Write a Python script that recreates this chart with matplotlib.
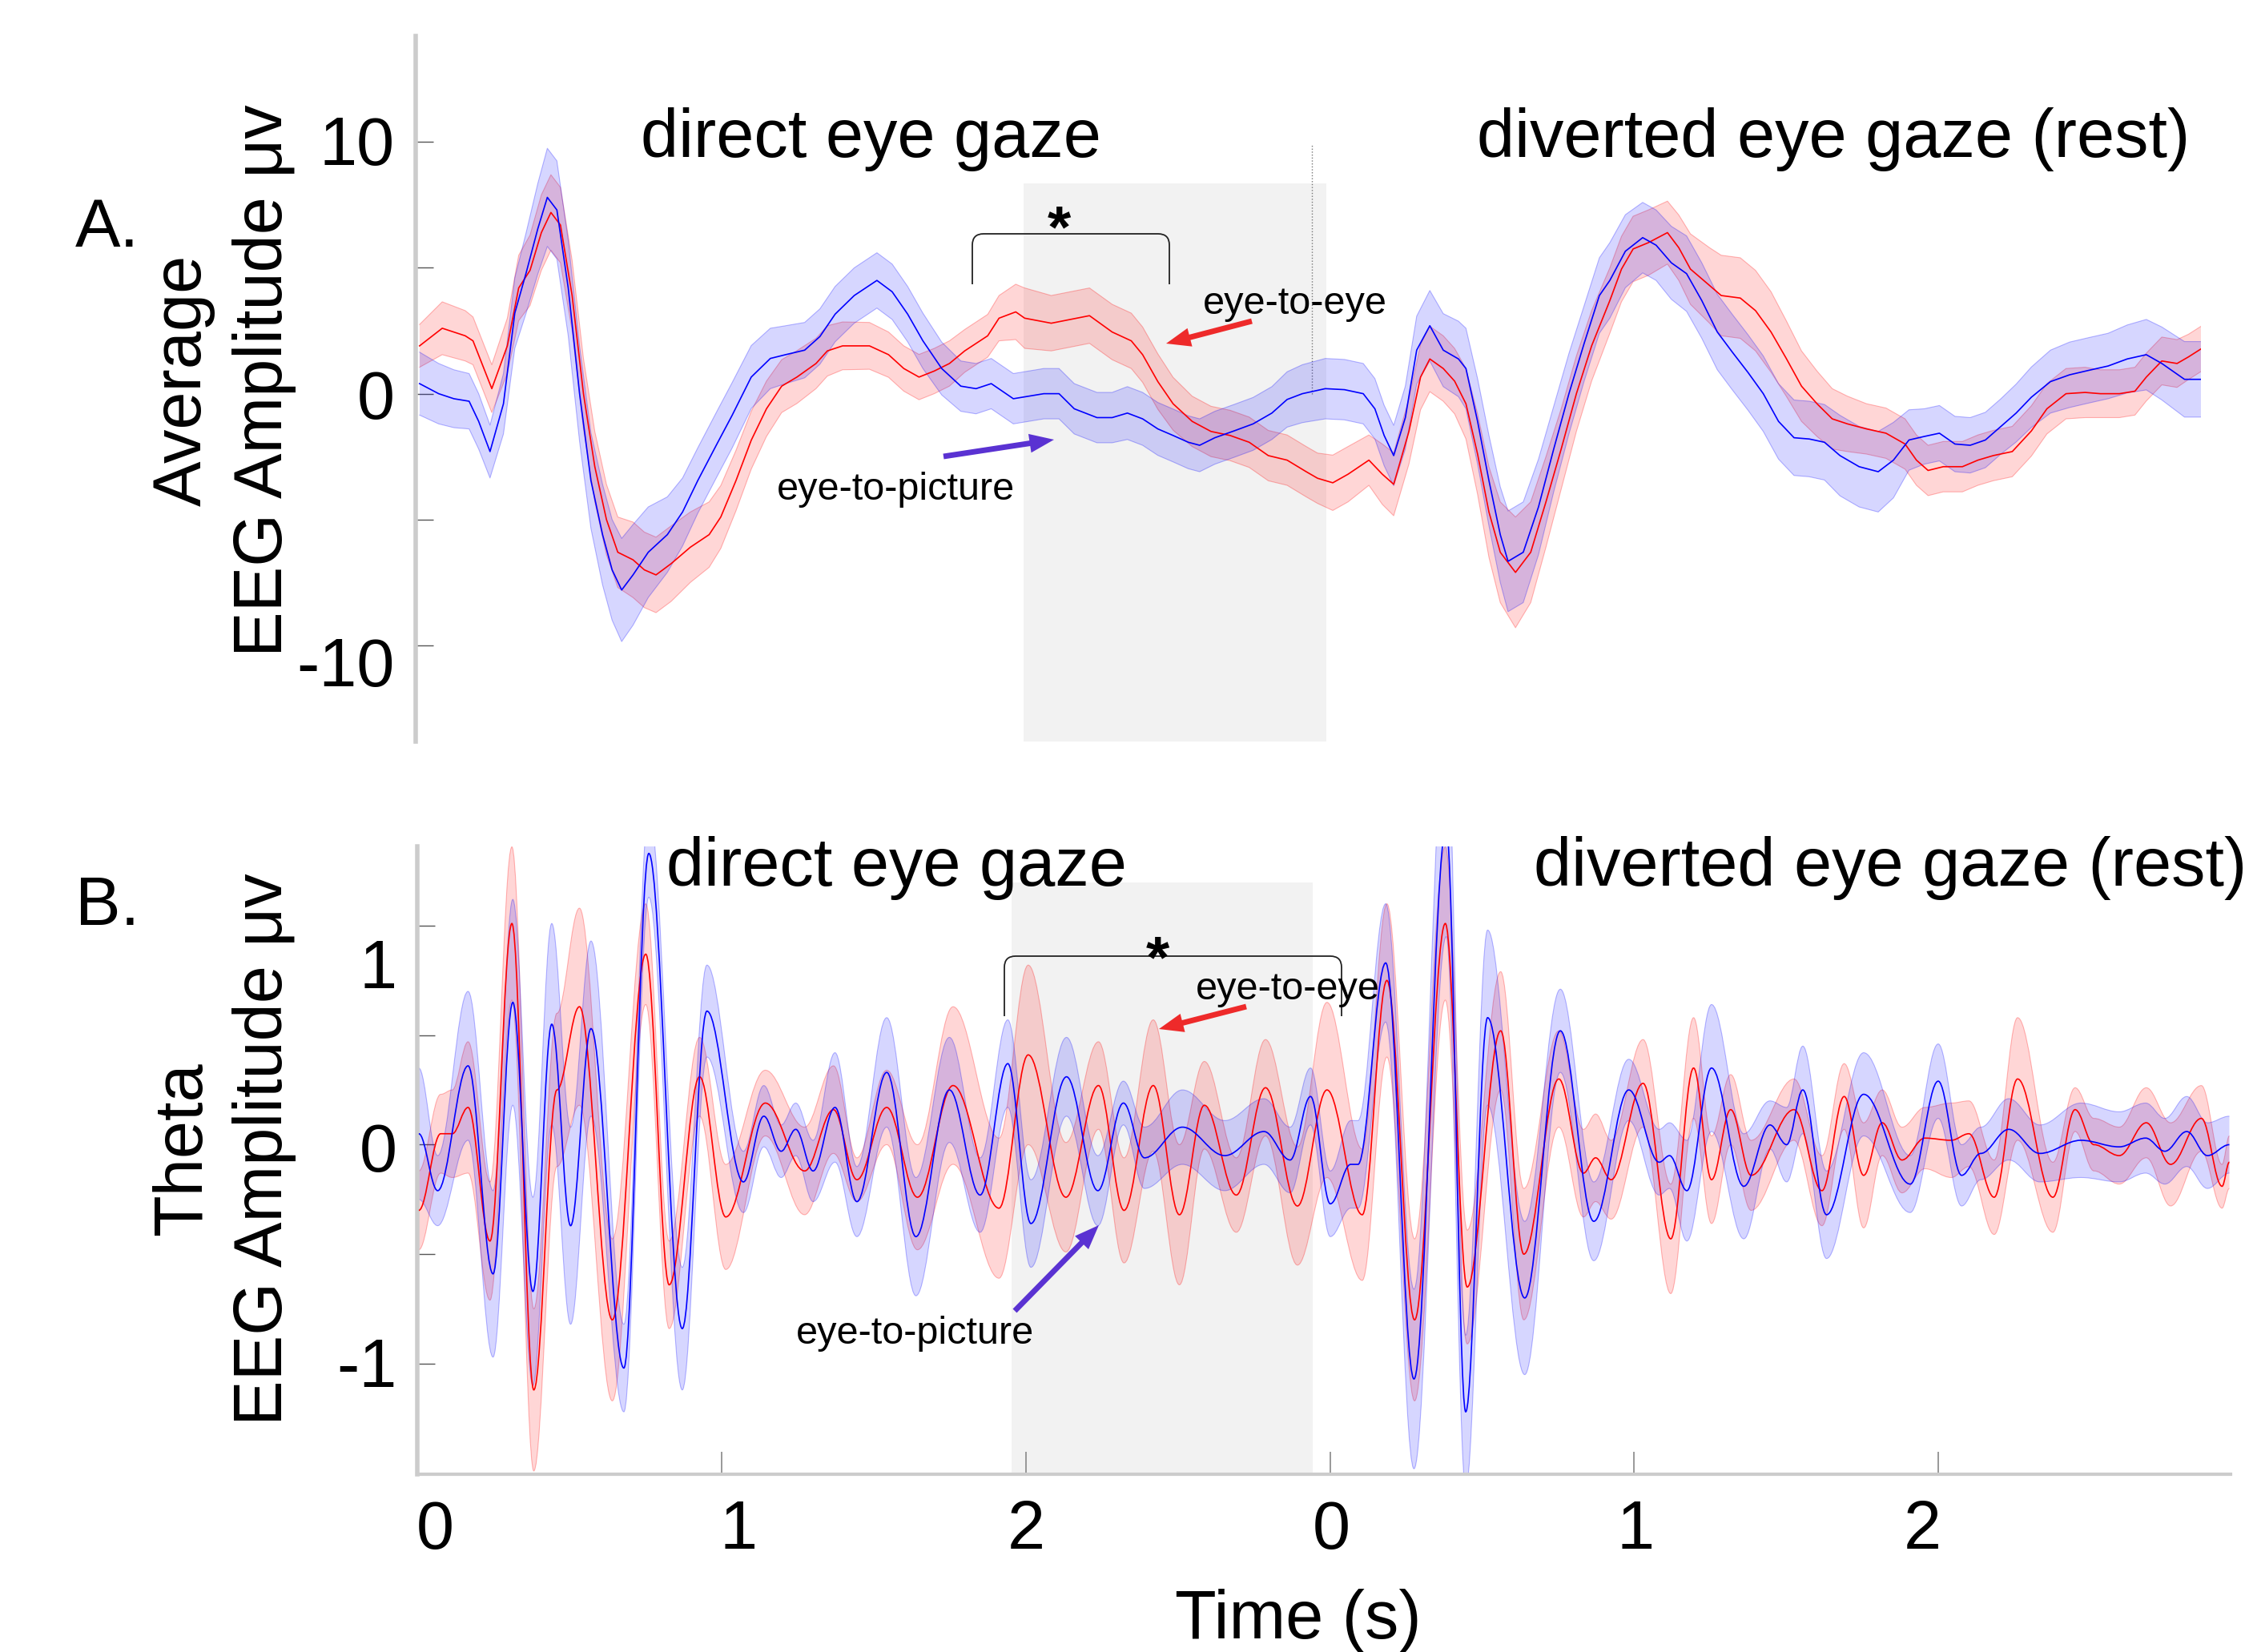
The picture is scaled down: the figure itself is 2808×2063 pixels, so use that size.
import numpy as np
import matplotlib
matplotlib.use('Agg')
import matplotlib.pyplot as plt
from matplotlib.patches import FancyArrowPatch, PathPatch
from matplotlib.path import Path

plt.rcParams['font.family'] = ['Liberation Sans', 'DejaVu Sans']

W, H = 2808, 2063
DPI = 100

# ---------------- panel A : average EEG ----------------
a_red_t = [0.013, 0.089, 0.166, 0.192, 0.255, 0.307, 0.345, 0.383, 0.421, 0.453, 0.485, 0.524,
           0.562, 0.600, 0.639, 0.677, 0.728, 0.766, 0.805, 0.856, 0.920, 0.983, 1.022, 1.073,
           1.124, 1.175, 1.226, 1.277, 1.341, 1.379, 1.430, 1.520, 1.584, 1.635, 1.686, 1.737,
           1.788, 1.839, 1.916, 1.954, 2.010, 2.040, 2.129, 2.193, 2.257, 2.333, 2.397, 2.435,
           2.486, 2.537, 2.601, 2.664, 2.728, 2.792, 2.856, 2.919, 2.983, 3.021, 3.072, 3.123,
           3.193, 3.238, 3.276, 3.327, 3.366, 3.397, 3.442, 3.480, 3.518, 3.557, 3.595, 3.633,
           3.684, 3.735, 3.786, 3.837, 3.888, 3.939, 4.000, 4.039, 4.078, 4.129, 4.193, 4.231,
           4.270, 4.334, 4.373, 4.437, 4.488, 4.540, 4.591, 4.642, 4.694, 4.745, 4.796, 4.860,
           4.925, 4.989, 5.027, 5.066, 5.117, 5.181, 5.233, 5.284, 5.348, 5.412, 5.464, 5.528,
           5.592, 5.643, 5.707, 5.759, 5.797, 5.849, 5.900, 5.938, 5.983]
a_red = [1.9, 2.6, 2.3, 2.1, 0.2, 1.9, 4.2, 4.9, 6.4, 7.2, 6.7, 3.9,
         0.0, -2.9, -5.0, -6.3, -6.6, -7.0, -7.2, -6.75, -6.1, -5.6, -4.9, -3.45,
         -1.85, -0.6, 0.3, 0.66, 1.2, 1.7, 1.9, 1.9, 1.55, 1.0, 0.66, 0.9,
         1.2, 1.7, 2.3, 3.0, 3.25, 3.0, 2.8, 2.95, 3.1, 2.45, 2.1, 1.55,
         0.48, -0.4, -1.1, -1.5, -1.66, -1.93, -2.46, -2.64, -3.1, -3.36, -3.54, -3.2,
         -2.64, -3.2, -3.6, -1.5, 0.66, 1.38, 1.0, 0.5, -0.4, -2.4, -4.7, -6.3,
         -7.1, -6.3, -4.3, -2.2, 0.0, 1.9, 3.7, 4.95, 5.75, 6.0, 6.4, 5.8,
         4.95, 4.3, 3.9, 3.8, 3.3, 2.45, 1.4, 0.3, -0.4, -1.0, -1.2, -1.4,
         -1.57, -2.0, -2.64, -3.05, -2.9, -2.9, -2.64, -2.46, -2.3, -1.48, -0.6, 0.0,
         0.05, 0.0, 0.0, 0.1, 0.66, 1.3, 1.2, 1.46, 1.8]
a_red_err = [0.85, 1.05, 1.0, 0.95, 0.95, 1.1, 1.3, 1.4, 1.5, 1.5, 1.5, 1.4,
             1.4, 1.4, 1.4, 1.4, 1.5, 1.5, 1.5, 1.5, 1.4, 1.3, 1.25, 1.2,
             1.15, 1.1, 1.05, 1.05, 1.0, 1.0, 0.95, 0.93, 0.9, 0.9, 0.9, 0.9,
             0.9, 0.85, 0.85, 0.9, 1.1, 1.2, 1.1, 1.1, 1.1, 1.1, 1.1, 1.1,
             1.1, 1.05, 1.0, 1.0, 1.0, 1.0, 1.0, 1.0, 1.0, 1.0, 1.1, 1.1,
             1.0, 1.2, 1.25, 1.3, 1.3, 1.3, 1.3, 1.3, 1.4, 1.6, 1.8, 2.0,
             2.2, 2.0, 1.8, 1.6, 1.5, 1.4, 1.3, 1.3, 1.3, 1.3, 1.25, 1.3,
             1.4, 1.5, 1.6, 1.6, 1.6, 1.6, 1.5, 1.4, 1.3, 1.2, 1.1, 1.0,
             1.0, 1.0, 1.0, 1.0, 1.0, 1.0, 1.0, 1.0, 1.0, 1.0, 1.0, 1.0,
             1.0, 0.95, 0.95, 0.95, 0.95, 0.95, 0.95, 0.9, 0.9]

a_blue_t = [0.013, 0.077, 0.128, 0.179, 0.211, 0.249, 0.294, 0.332, 0.370, 0.409, 0.441, 0.473,
            0.511, 0.549, 0.587, 0.626, 0.658, 0.690, 0.728, 0.779, 0.843, 0.894, 0.945, 1.009,
            1.060, 1.124, 1.188, 1.239, 1.303, 1.354, 1.405, 1.469, 1.545, 1.596, 1.648, 1.699,
            1.762, 1.826, 1.877, 1.928, 2.002, 2.104, 2.155, 2.206, 2.282, 2.333, 2.384, 2.435,
            2.486, 2.537, 2.588, 2.626, 2.677, 2.741, 2.805, 2.868, 2.919, 2.970, 3.047, 3.111,
            3.174, 3.213, 3.244, 3.276, 3.315, 3.353, 3.397, 3.442, 3.493, 3.518, 3.557, 3.595,
            3.633, 3.659, 3.710, 3.761, 3.812, 3.863, 3.914, 3.965, 4.000, 4.052, 4.110, 4.155,
            4.206, 4.257, 4.308, 4.360, 4.411, 4.463, 4.514, 4.565, 4.617, 4.668, 4.719, 4.771,
            4.835, 4.899, 4.950, 5.002, 5.053, 5.104, 5.156, 5.207, 5.258, 5.310, 5.361, 5.412,
            5.476, 5.540, 5.605, 5.669, 5.733, 5.797, 5.849, 5.925, 5.983]
a_blue = [0.4, 0.0, -0.2, -0.3, -1.1, -2.3, -0.4, 3.2, 4.8, 6.55, 7.8, 7.3,
          4.2, 0.0, -3.45, -5.6, -7.0, -7.8, -7.2, -6.3, -5.6, -4.7, -3.45, -2.0,
          -0.86, 0.66, 1.4, 1.55, 1.73, 2.27, 3.16, 3.9, 4.5, 4.05, 3.16, 2.1,
          1.0, 0.3, 0.2, 0.4, -0.2, 0.0, 0.0, -0.6, -0.95, -0.95, -0.77, -1.0,
          -1.4, -1.66, -1.93, -2.05, -1.75, -1.48, -1.2, -0.77, -0.23, 0.0, 0.2, 0.16,
          0.0, -0.6, -1.66, -2.46, -0.95, 1.73, 2.7, 1.73, 1.38, 1.0, -1.1, -3.45,
          -5.6, -6.66, -6.3, -4.5, -2.2, 0.0, 2.0, 3.9, 4.5, 5.66, 6.2, 5.9,
          5.2, 4.77, 3.7, 2.45, 1.64, 0.84, 0.0, -1.1, -1.75, -1.8, -1.93, -2.46,
          -2.9, -3.1, -2.64, -1.84, -1.7, -1.57, -2.0, -2.05, -1.84, -1.3, -0.77, -0.14,
          0.48, 0.75, 0.93, 1.1, 1.38, 1.55, 1.2, 0.57, 0.57]
a_blue_err = [1.25, 1.2, 1.15, 1.1, 1.1, 1.05, 1.2, 1.4, 1.6, 1.8, 1.95, 1.95,
              1.9, 1.9, 1.9, 2.0, 2.0, 2.05, 2.0, 1.8, 1.5, 1.35, 1.3, 1.3,
              1.3, 1.25, 1.2, 1.15, 1.1, 1.1, 1.1, 1.1, 1.1, 1.1, 1.1, 1.1,
              1.05, 1.0, 1.0, 1.0, 1.0, 1.0, 1.0, 1.0, 1.0, 1.0, 1.05, 1.05,
              1.05, 1.05, 1.05, 1.05, 1.05, 1.05, 1.05, 1.05, 1.1, 1.15, 1.2, 1.2,
              1.2, 1.2, 1.2, 1.2, 1.25, 1.35, 1.4, 1.45, 1.5, 1.6, 1.7, 1.8,
              1.9, 2.0, 2.0, 1.9, 1.7, 1.6, 1.5, 1.5, 1.5, 1.45, 1.4, 1.4,
              1.45, 1.5, 1.5, 1.5, 1.5, 1.5, 1.5, 1.5, 1.5, 1.5, 1.5, 1.6,
              1.6, 1.6, 1.5, 1.2, 1.1, 1.1, 1.1, 1.1, 1.1, 1.1, 1.15, 1.2,
              1.25, 1.3, 1.3, 1.3, 1.35, 1.4, 1.45, 1.5, 1.5]

# ---------------- panel B : theta band (extrema) ----------------
b_red_t = [0.005, 0.077, 0.115, 0.167, 0.239, 0.311, 0.383, 0.459, 0.533, 0.641, 0.751, 0.828,
           0.928, 1.014, 1.144, 1.273, 1.368, 1.445, 1.543, 1.644, 1.761, 1.912, 2.008, 2.132,
           2.239, 2.323, 2.419, 2.505, 2.587, 2.692, 2.788, 2.893, 2.990, 3.106, 3.187, 3.278,
           3.379, 3.451, 3.561, 3.637, 3.752, 3.833, 3.873, 3.924, 4.029, 4.120, 4.195, 4.254,
           4.317, 4.384, 4.525, 4.617, 4.690, 4.754, 4.815, 4.880, 4.955, 5.042, 5.100, 5.183,
           5.260, 5.376, 5.449, 5.511, 5.594, 5.683, 5.763, 5.864, 5.932, 5.956]
b_red = [-0.3, 0.05, 0.05, 0.17, -0.44, 1.01, -1.12, 0.25, 0.63, -0.8, 0.87, -0.64,
         0.31, -0.33, 0.19, -0.12, 0.16, -0.16, 0.17, -0.24, 0.27, -0.29, 0.41, -0.24,
         0.27, -0.3, 0.27, -0.32, 0.18, -0.23, 0.26, -0.28, 0.25, -0.32, 0.75, -0.8,
         1.01, -0.65, 0.52, -0.5, 0.3, -0.13, -0.06, -0.16, 0.28, -0.43, 0.35, -0.16,
         0.16, -0.14, 0.16, -0.21, 0.22, -0.14, 0.1, -0.07, 0.03, 0.02, 0.05, -0.24,
         0.3, -0.24, 0.16, 0.0, -0.05, 0.1, -0.09, 0.12, -0.19, -0.08]
b_red_err = [0.18, 0.18, 0.2, 0.3, 0.27, 0.35, 0.37, 0.35, 0.45, 0.37, 0.23, 0.2,
             0.18, 0.24, 0.15, 0.2, 0.2, 0.1, 0.17, 0.24, 0.36, 0.32, 0.41, 0.25,
             0.2, 0.24, 0.3, 0.32, 0.2, 0.17, 0.22, 0.27, 0.4, 0.3, 0.35, 0.37,
             0.35, 0.26, 0.27, 0.3, 0.22, 0.2, 0.2, 0.18, 0.2, 0.25, 0.23, 0.2,
             0.16, 0.16, 0.14, 0.16, 0.15, 0.24, 0.15, 0.15, 0.14, 0.17, 0.15, 0.17,
             0.28, 0.16, 0.1, 0.12, 0.13, 0.16, 0.19, 0.15, 0.1, 0.12]

b_blue_t = [0.005, 0.067, 0.167, 0.249, 0.314, 0.380, 0.442, 0.504, 0.571, 0.679, 0.761, 0.871,
            0.952, 1.072, 1.139, 1.196, 1.244, 1.301, 1.373, 1.445, 1.543, 1.639, 1.749, 1.850,
            1.941, 2.017, 2.134, 2.237, 2.321, 2.390, 2.515, 2.654, 2.783, 2.869, 2.936, 3.001,
            3.068, 3.092, 3.183, 3.276, 3.382, 3.446, 3.518, 3.640, 3.757, 3.867, 3.982, 4.082,
            4.116, 4.173, 4.254, 4.360, 4.446, 4.501, 4.554, 4.632, 4.754, 4.907, 4.999, 5.076,
            5.139, 5.231, 5.333, 5.468, 5.594, 5.681, 5.744, 5.816, 5.884, 5.956]
b_blue = [0.05, -0.21, 0.36, -0.59, 0.65, -0.67, 0.55, -0.37, 0.53, -1.02, 1.33, -0.84,
          0.61, -0.17, 0.13, -0.03, 0.07, -0.12, 0.17, -0.26, 0.33, -0.42, 0.25, -0.23,
          0.37, -0.36, 0.31, -0.21, 0.19, -0.06, 0.08, -0.05, 0.06, -0.07, 0.22, -0.27,
          -0.09, -0.09, 0.83, -1.07, 1.45, -1.22, 0.58, -0.7, 0.52, -0.35, 0.25, -0.08,
          -0.05, -0.21, 0.35, -0.19, 0.09, 0.0, 0.25, -0.32, 0.23, -0.18, 0.29, -0.14,
          -0.04, 0.07, -0.04, 0.02, -0.01, 0.03, -0.03, 0.06, -0.05, 0.0]
b_blue_err = [0.3, 0.16, 0.34, 0.38, 0.47, 0.43, 0.46, 0.45, 0.4, 0.2, 0.2, 0.28,
              0.21, 0.14, 0.14, 0.12, 0.12, 0.14, 0.25, 0.16, 0.25, 0.27, 0.24, 0.17,
              0.2, 0.2, 0.18, 0.16, 0.1, 0.14, 0.17, 0.16, 0.15, 0.15, 0.13, 0.15,
              0.2, 0.2, 0.27, 0.41, 0.5, 0.35, 0.4, 0.35, 0.19, 0.18, 0.14, 0.15,
              0.15, 0.23, 0.29, 0.24, 0.11, 0.17, 0.2, 0.2, 0.19, 0.13, 0.17, 0.14,
              0.12, 0.14, 0.13, 0.17, 0.16, 0.16, 0.15, 0.16, 0.15, 0.13]

x_tick_labels = ['0', '1', '2', '0', '1', '2']

RED = '#ff0000'
BLUE = '#0000ff'


def px_rect(x0, y0, x1, y1):
    return [x0 / W, 1 - y1 / H, (x1 - x0) / W, (y1 - y0) / H]


def draw_band(ax, t, m, e, color):
    t, m, e = np.asarray(t), np.asarray(m), np.asarray(e)
    ax.fill_between(t, m - e, m + e, facecolor=color, alpha=0.16, edgecolor='none', zorder=2)
    ax.plot(t, m + e, color=color, alpha=0.28, lw=0.8, zorder=2)
    ax.plot(t, m - e, color=color, alpha=0.28, lw=0.8, zorder=2)


def bezier_segments(t, v, k=0.36):
    # cubic segments through the read extrema, flat tangent at each of them
    verts, codes = [], []
    for i in range(len(t) - 1):
        dt = t[i + 1] - t[i]
        verts += [(t[i] + k * dt, v[i]), (t[i + 1] - k * dt, v[i + 1]), (t[i + 1], v[i + 1])]
        codes += [Path.CURVE4] * 3
    return verts, codes


def draw_smooth(ax, t, m, e, color):
    t, m, e = np.asarray(t), np.asarray(m), np.asarray(e)
    up, lo = m + e, m - e
    v_up, c_up = bezier_segments(t, up)
    v_lo, c_lo = bezier_segments(t[::-1], lo[::-1])
    verts = [(t[0], up[0])] + v_up + [(t[-1], lo[-1])] + v_lo + [(t[0], up[0])]
    codes = [Path.MOVETO] + c_up + [Path.LINETO] + c_lo + [Path.CLOSEPOLY]
    ax.add_patch(PathPatch(Path(verts, codes), facecolor=color, alpha=0.16, lw=0, zorder=2))
    for edge in (up, lo):
        vv, cc = bezier_segments(t, edge)
        ax.add_patch(PathPatch(Path([(t[0], edge[0])] + vv, [Path.MOVETO] + cc), fill=False,
                               edgecolor=color, alpha=0.28, lw=0.8, zorder=2))
    vv, cc = bezier_segments(t, m)
    return Path([(t[0], m[0])] + vv, [Path.MOVETO] + cc)


def style_axes(ax, yticks):
    for s in ['top', 'right']:
        ax.spines[s].set_visible(False)
    ax.spines['left'].set_color('#cccccc')
    ax.spines['left'].set_linewidth(4)
    ax.set_yticks(yticks)
    ax.tick_params(axis='y', direction='in', length=16, width=1, color='#555555',
                   labelleft=False)
    ax.patch.set_alpha(0)


fig = plt.figure(figsize=(W / DPI, H / DPI), dpi=DPI)

# panel A
ax_a = fig.add_axes(px_rect(519, 45, 2748, 926))
style_axes(ax_a, [-10, -5, 0, 5, 10])
ax_a.spines['bottom'].set_visible(False)
ax_a.set_xticks([])
ax_a.set_xlim(0, 5.98)
ax_a.set_ylim(-13.82, 14.21)
ax_a.fill_between([2.037, 3.051], -13.82, 8.35, color='#f2f2f2', lw=0, zorder=0)
ax_a.plot([3.003, 3.003], [0, 9.9], color='#777777', lw=1, ls=':', zorder=1)
draw_band(ax_a, a_red_t, a_red, a_red_err, RED)
draw_band(ax_a, a_blue_t, a_blue, a_blue_err, BLUE)
ax_a.plot(a_red_t, a_red, color=RED, lw=1.2, zorder=3)
ax_a.plot(a_blue_t, a_blue, color=BLUE, lw=1.2, zorder=3)

# panel B
ax_b = fig.add_axes(px_rect(521, 1057, 2785, 1841))
style_axes(ax_b, [-1.5, -1, -0.5, 0, 0.5, 1])
ax_b.spines['bottom'].set_color('#cccccc')
ax_b.spines['bottom'].set_linewidth(3)
ax_b.set_xlim(0, 5.96)
ax_b.set_ylim(-1.505, 1.362)
ax_b.set_xticks([0, 1, 2, 3, 4, 5])
ax_b.tick_params(axis='x', direction='in', length=20, width=1.2, color='#888888',
                 labelbottom=False)
ax_b.fill_between([1.954, 2.944], -1.505, 1.196, color='#f2f2f2', lw=0, zorder=0)
red_path = draw_smooth(ax_b, b_red_t, b_red, b_red_err, RED)
blue_path = draw_smooth(ax_b, b_blue_t, b_blue, b_blue_err, BLUE)
ax_b.add_patch(PathPatch(red_path, fill=False, edgecolor=RED, lw=1.2, zorder=3))
ax_b.add_patch(PathPatch(blue_path, fill=False, edgecolor=BLUE, lw=1.2, zorder=3))

# overlay in pixel coordinates for labels and annotations
ov = fig.add_axes([0, 0, 1, 1])
ov.set_xlim(0, W)
ov.set_ylim(H, 0)
ov.axis('off')
ov.patch.set_alpha(0)

BIG = 61
em = BIG * DPI / 72.0

ov.text(134, 277.6 + 0.358 * em, 'A.', fontsize=BIG, ha='center', va='baseline')
ov.text(134, 1125 + 0.358 * em, 'B.', fontsize=BIG, ha='center', va='baseline')
ov.text(229, 475, 'Average', fontsize=BIG, rotation=90, ha='center', va='center')
ov.text(330, 475, 'EEG Amplitude μv', fontsize=BIG, rotation=90, ha='center', va='center')
ov.text(229, 1435, 'Theta', fontsize=BIG, rotation=90, ha='center', va='center')
ov.text(330, 1435, 'EEG Amplitude μv', fontsize=BIG, rotation=90, ha='center', va='center')

for lab, y in zip(['10', '0', '-10'], [175.5, 492.5, 827]):
    ov.text(493, y + 0.358 * em, lab, fontsize=BIG, ha='right', va='baseline')
for lab, y in zip(['1', '0', '-1'], [1203.5, 1433, 1701.5]):
    ov.text(496, y + 0.358 * em, lab, fontsize=BIG, ha='right', va='baseline')
for lab, x in zip(x_tick_labels, [543, 922, 1281, 1662, 2042, 2400]):
    ov.text(x, 1904 + 0.358 * em, lab, fontsize=BIG, ha='center', va='baseline')
ov.text(1621, 2024, 'Time (s)', fontsize=BIG, ha='center', va='center')

ov.text(1087, 174, 'direct eye gaze', fontsize=BIG, ha='center', va='center', zorder=5)
ov.text(2289, 174, 'diverted eye gaze (rest)', fontsize=BIG, ha='center', va='center', zorder=5)
ov.text(1119, 1084, 'direct eye gaze', fontsize=BIG, ha='center', va='center', zorder=5)
ov.text(2360, 1084, 'diverted eye gaze (rest)', fontsize=BIG, ha='center', va='center', zorder=5)

SMALL = 35
ov.text(1617, 380, 'eye-to-eye', fontsize=SMALL, ha='center', va='center')
ov.text(1119, 611, 'eye-to-picture', fontsize=SMALL, ha='center', va='center')
ov.text(1608, 1236, 'eye-to-eye', fontsize=SMALL, ha='center', va='center')
ov.text(1143, 1666, 'eye-to-picture', fontsize=SMALL, ha='center', va='center')


def bracket(x0, x1, yt, yb, r=14):
    verts = [(x0, yb), (x0, yt + r), (x0, yt), (x0 + r, yt), (x1 - r, yt), (x1, yt),
             (x1, yt + r), (x1, yb)]
    codes = [Path.MOVETO, Path.LINETO, Path.CURVE3, Path.CURVE3, Path.LINETO,
             Path.CURVE3, Path.CURVE3, Path.LINETO]
    ov.add_patch(PathPatch(Path(verts, codes), fill=False, edgecolor='#222222', lw=1.3))


bracket(1214, 1460, 292, 355)
bracket(1254, 1675, 1194, 1269)
STAR = 54
sem = STAR * DPI / 72.0
ov.text(1322, 266 + 0.56 * sem, '*', fontsize=STAR, fontweight='bold', ha='center',
        va='baseline')
ov.text(1445, 1178 + 0.56 * sem, '*', fontsize=STAR, fontweight='bold', ha='center',
        va='baseline')


def arrow(tail, head, color):
    ov.add_patch(FancyArrowPatch(tail, head, arrowstyle='simple,head_width=1.7,head_length=2.2,tail_width=0.5',
                                 mutation_scale=10, color=color, lw=0, shrinkA=0, shrinkB=0,
                                 zorder=6))


arrow((1563, 401), (1456, 429), '#ee2a2a')
arrow((1178, 570), (1316, 549), '#5a32d2')
arrow((1556, 1257), (1447, 1285), '#ee2a2a')
arrow((1267, 1637), (1372, 1530), '#5a32d2')

fig.savefig('out.png', dpi=DPI)
